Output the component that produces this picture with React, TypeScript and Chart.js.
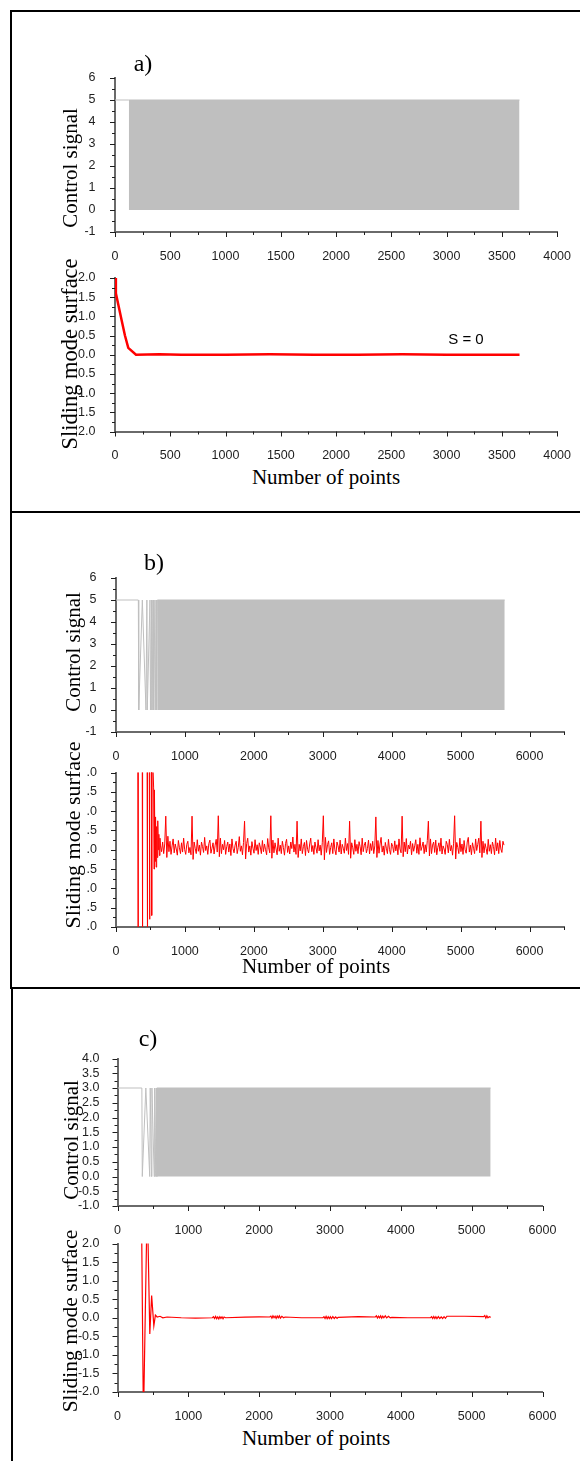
import React, { useEffect, useRef } from "react";
import { Chart, registerables } from "chart.js";

Chart.register(...registerables);

// ===================== DATA =====================
// ---- panel a) ----
const aXTickValues = [0, 500, 1000, 1500, 2000, 2500, 3000, 3500, 4000];
const aXTickLabels = ["0", "500", "1000", "1500", "2000", "2500", "3000", "3500", "4000"];
const a1YTickValues = [-1, 0, 1, 2, 3, 4, 5, 6];
const a1YTickLabels = ["-1", "0", "1", "2", "3", "4", "5", "6"];
const a2YTickValues = [2, 1.5, 1, 0.5, 0, -0.5, -1, -1.5, -2];
const a2YTickLabels = ["2.0", "1.5", "1.0", "0.5", "0.0", "0.5", "1.0", "1.5", "2.0"];

const a1InitX = [0, 125];
const a1InitY = [5, 5];
const a1BandX = [125, 3660]; // fast switching 0 <-> 5
const a1BandY = [5, 5];
const a1BandLow = 0;

const a2X = [0, 8, 30, 60, 90, 120, 190, 400, 600, 1000, 1400, 1800, 2200, 2600, 3000, 3400, 3660];
const a2Y = [2.0, 1.6, 1.3, 0.9, 0.5, 0.18, 0.0, 0.01, 0.0, 0.0, 0.01, 0.0, 0.0, 0.01, 0.0, 0.0, 0.0];

// ---- panel b) ----
const bXTickValues = [0, 1000, 2000, 3000, 4000, 5000, 6000];
const bXTickLabels = ["0", "1000", "2000", "3000", "4000", "5000", "6000"];
const b1YTickValues = [-1, 0, 1, 2, 3, 4, 5, 6];
const b1YTickLabels = ["-1", "0", "1", "2", "3", "4", "5", "6"];
const b2YTickValues = [2, 1.5, 1, 0.5, 0, -0.5, -1, -1.5, -2];
const b2YTickLabels = [".0", ".5", ".0", ".5", ".0", ".5", ".0", ".5", ".0"];

const b1InitX = [0, 324, 330, 382, 435, 448, 454, 493, 500, 517, 522, 541, 546, 565, 570, 585, 590, 600];
const b1InitY = [5, 5, 0, 5, 0, 5, 0, 5, 0, 5, 0, 5, 0, 5, 0, 5, 0, 5];
const b1BandX = [600, 5640];
const b1BandY = [5, 5];
const b1BandLow = 0;

const b2EarlyX = [0, 316, 320, 324, 380, 384, 388, 450, 455, 460, 482, 487, 492, 513, 518, 523, 546, 552, 558, 566, 574, 582, 590, 598, 606, 614, 622, 630, 638];
const b2EarlyY = [3, 3, -3, 3, 3, -3, 3, 3, -3, 3, 3, -1.8, 3, 3, -1.7, 3, 1.6, -0.5, 1.55, -0.3, 0.85, -0.45, 0.6, -0.2, 0.75, 0.0, 0.4, -0.15, 0.3];
const b2NoiseStart = 646;
const b2NoiseStep = 15.24;
const b2Noise = [
  0.1, -0.05, 0.2, -0.1, 0.15,
  0.87, -0.2, 0.35, -0.05, 0.22, -0.12, 0.1, 0.28, -0.08, 0.15, 0.02, -0.14, 0.24, 0.05, -0.1, 0.18, -0.06, 0.3, 0.0, -0.12, 0.14, 0.22, -0.08, 0.06, -0.13,
  0.87, -0.25, 0.2, 0.04, -0.1, 0.26, -0.04, 0.12, -0.14, 0.2, 0.08, -0.07, 0.32, -0.02, 0.1, -0.12, 0.16, 0.25, -0.09, 0.04, 0.18, -0.11, 0.12, 0.27, -0.06,
  0.88, -0.18, 0.3, -0.1, 0.14, 0.0, 0.24, -0.12, 0.08, 0.2, -0.06, 0.15, -0.15, 0.28, 0.03, -0.08, 0.12, 0.22, -0.1, 0.06, 0.34, -0.04, 0.1, -0.13, 0.19,
  0.74, -0.24, 0.16, 0.3, -0.06, 0.1, -0.14, 0.21, 0.04, -0.09, 0.26, -0.02, 0.13, -0.12, 0.18, 0.07, -0.1, 0.24, -0.05, 0.15, 0.0, -0.13, 0.29, 0.05, -0.08,
  0.88, -0.22, 0.25, -0.08, 0.18, 0.02, -0.13, 0.3, -0.04, 0.12, -0.1, 0.22, 0.06, -0.14, 0.16, 0.27, -0.07, 0.1, -0.11, 0.2, 0.03, 0.33, -0.06, 0.14, -0.12,
  0.74, -0.2, 0.14, -0.03, 0.28, -0.1, 0.08, 0.19, -0.15, 0.24, 0.01, -0.08, 0.15, 0.3, -0.05, 0.11, -0.12, 0.2, 0.05, -0.09, 0.26, -0.03, 0.12, -0.14, 0.18,
  0.88, -0.26, 0.32, -0.07, 0.13, 0.23, -0.12, 0.06, 0.18, -0.1, 0.28, 0.0, -0.13, 0.2, 0.1, -0.06, 0.25, -0.11, 0.14, 0.04, -0.09, 0.3, -0.02, 0.16, -0.12,
  0.74, -0.22, 0.18, 0.05, -0.12, 0.26, -0.04, 0.14, -0.1, 0.21, 0.08, -0.13, 0.3, -0.05, 0.12, 0.2, -0.08, 0.03, 0.25, -0.11, 0.16, -0.02, 0.22, -0.1, 0.1,
  0.85, -0.2, 0.24, -0.09, 0.15, 0.32, -0.06, 0.1, -0.14, 0.19, 0.04, -0.1, 0.27, 0.0, -0.12, 0.17, 0.09, -0.07, 0.23, -0.03, 0.13, -0.13, 0.28, 0.02, -0.08,
  0.87, -0.18, 0.2, -0.05, 0.29, -0.11, 0.12, 0.02, 0.22, -0.13, 0.16, -0.04, 0.1, 0.26, -0.09, 0.14, -0.12, 0.31, -0.02, 0.08, 0.2, -0.1, 0.13, -0.06, 0.24,
  0.74, -0.16, 0.28, -0.1, 0.12, 0.2, -0.07, 0.25, -0.13, 0.06, 0.18, -0.04, 0.3, -0.11, 0.1, 0.02, -0.12, 0.22, 0.14, -0.08, 0.27, -0.03, 0.11, -0.14, 0.17,
  0.88, -0.24, 0.19, 0.06, -0.1, 0.3, -0.05, 0.15, -0.12, 0.24, 0.0, -0.09, 0.2, 0.32, -0.06, 0.12, -0.13, 0.18, 0.04, -0.1, 0.28, -0.02, 0.14, 0.3, -0.08,
  0.74, -0.2, 0.22, -0.08, 0.16, 0.03, -0.12, 0.27, -0.04, 0.13, -0.1, 0.2, 0.08, -0.13, 0.3, -0.03, 0.18, -0.1, 0.24, 0.02, -0.07, 0.22, 0.12,
];

// ---- panel c) ----
const cXTickValues = [0, 1000, 2000, 3000, 4000, 5000, 6000];
const cXTickLabels = ["0", "1000", "2000", "3000", "4000", "5000", "6000"];
const c1YTickValues = [-1, -0.5, 0, 0.5, 1, 1.5, 2, 2.5, 3, 3.5, 4];
const c1YTickLabels = ["-1.0", "-0.5", "0.0", "0.5", "1.0", "1.5", "2.0", "2.5", "3.0", "3.5", "4.0"];
const c2YTickValues = [-2, -1.5, -1, -0.5, 0, 0.5, 1, 1.5, 2];
const c2YTickLabels = ["-2.0", "-1.5", "-1.0", "-0.5", "0.0", "0.5", "1.0", "1.5", "2.0"];

const c1InitX = [0, 344, 350, 400, 455, 462, 480, 486, 518, 524, 540, 546, 555];
const c1InitY = [3, 3, 0, 3, 0, 3, 0, 3, 0, 3, 0, 3, 0];
const c1BandX = [555, 5268];
const c1BandY = [3, 3];
const c1BandLow = 0;

const c2X = [
  0, 338, 366, 420, 456, 482, 513, 535, 560, 600, 640, 700, 900, 1100, 1340,
  1355, 1370, 1385, 1400, 1415, 1430, 1445, 1460, 1475, 1490, 1505, 1525,
  1800, 2000, 2150,
  2165, 2180, 2195, 2210, 2225, 2240, 2255, 2270, 2285, 2300, 2320, 2345, 2365,
  2600, 2900,
  2915, 2930, 2945, 2960, 2975, 2990, 3005, 3020, 3040, 3060, 3080, 3100, 3115,
  3400, 3640,
  3655, 3670, 3685, 3700, 3715, 3730, 3745, 3760, 3780, 3800, 3825, 3850, 3872,
  4100, 4420,
  4435, 4450, 4465, 4480, 4495, 4510, 4530, 4550, 4570, 4590, 4610, 4630, 4650, 4665,
  4900, 5170,
  5185, 5200, 5215, 5230, 5250, 5268,
];
const c2Y = [
  3, 3, -2.8, 3.2, -0.44, 0.6, -0.22, 0.07, 0.02, 0.04, 0.0, 0.02, 0.0, -0.01, 0.0,
  0.03, -0.02, 0.035, -0.025, 0.02, -0.03, 0.03, -0.015, 0.025, -0.03, 0.02, 0.0,
  0.015, 0.025, 0.02,
  0.045, -0.01, 0.05, 0.0, 0.04, -0.015, 0.045, 0.0, 0.05, -0.01, 0.04, 0.0, 0.02,
  0.0, 0.0,
  0.03, -0.02, 0.035, -0.025, 0.03, -0.02, 0.03, -0.025, 0.03, -0.02, 0.025, -0.015, 0.01,
  0.03, 0.02,
  0.05, -0.005, 0.045, 0.0, 0.05, -0.01, 0.045, 0.0, 0.05, -0.005, 0.04, 0.0, 0.01,
  0.0, 0.0,
  0.03, -0.02, 0.035, -0.02, 0.03, -0.025, 0.03, -0.02, 0.025, -0.02, 0.03, -0.015, 0.04, 0.04,
  0.04, 0.03,
  0.06, -0.01, 0.05, 0.0, 0.03, 0.01,
];

// ---- texts ----
const panelLabels = ["a)", "b)", "c)"];
const controlTitle = "Control signal";
const surfaceTitle = "Sliding mode surface";
const xTitle = "Number of points";
const surfaceNote = "S = 0";

// ===================== STYLE =====================
const GREY = "#bfbfbf";
const RED = "#ff0000";
const AXIS = "#6a6a6a";
const TICK = "#1e1e1e";
const TICK_FONT = { family: "'Liberation Sans', Arial, sans-serif", size: 12.5 };
const SERIF = "'Liberation Serif', 'Times New Roman', serif";
const SANS = "'Liberation Sans', Arial, sans-serif";

const zip = (xs: number[], ys: number[]) => xs.map((x, i) => ({ x, y: ys[i] }));

const labelFor = (vals: number[], labels: string[]) => (v: any) => {
  const i = vals.findIndex((t) => Math.abs(t - Number(v)) < 1e-6);
  return i >= 0 ? labels[i] : "";
};

const axisTicksPlugin = {
  id: "axisTicks",
  afterDraw(chart: any) {
    const { ctx, chartArea } = chart;
    const xs = chart.scales.x;
    const ys = chart.scales.y;
    ctx.save();
    ctx.strokeStyle = TICK;
    ctx.lineWidth = 1;
    ctx.beginPath();
    xs.ticks.forEach((t: any) => {
      const px = Math.round(xs.getPixelForValue(t.value)) + 0.5;
      const len = t.label !== "" ? 5 : 3;
      ctx.moveTo(px, chartArea.bottom);
      ctx.lineTo(px, chartArea.bottom + len);
    });
    ys.ticks.forEach((t: any) => {
      const py = Math.round(ys.getPixelForValue(t.value)) + 0.5;
      const len = t.label !== "" ? 5 : 3;
      ctx.moveTo(chartArea.left - len, py);
      ctx.lineTo(chartArea.left, py);
    });
    ctx.stroke();
    ctx.restore();
  },
};

type Spec = {
  left: number; right: number; top: number; bottom: number;
  xMax: number; xStep: number; xVals: number[]; xLabels: string[];
  yMin: number; yMax: number; yStep: number; yVals: number[]; yLabels: string[];
  yPad: number;
  datasets: any[];
};

const bandSet = (xs: number[], ys: number[], low: number) => ({
  data: zip(xs, ys),
  borderColor: GREY,
  backgroundColor: GREY,
  borderWidth: 1,
  fill: { value: low },
});
const greyLine = (xs: number[], ys: number[]) => ({
  data: zip(xs, ys),
  borderColor: GREY,
  borderWidth: 1,
  fill: false,
});
const redLine = (pts: { x: number; y: number }[], w: number) => ({
  data: pts,
  borderColor: RED,
  borderWidth: w,
  fill: false,
});

const b2Points = [
  ...zip(b2EarlyX, b2EarlyY),
  ...b2Noise.map((y, i) => ({ x: b2NoiseStart + i * b2NoiseStep, y })),
];

const specs: Spec[] = [
  {
    left: 115, right: 558, top: 73.5, bottom: 232,
    xMax: 4000, xStep: 250, xVals: aXTickValues, xLabels: aXTickLabels,
    yMin: -1, yMax: 6, yStep: 0.5, yVals: a1YTickValues, yLabels: a1YTickLabels, yPad: 11.5,
    datasets: [bandSet(a1BandX, a1BandY, a1BandLow), greyLine(a1InitX, a1InitY)],
  },
  {
    left: 115, right: 558, top: 273.5, bottom: 431.5,
    xMax: 4000, xStep: 250, xVals: aXTickValues, xLabels: aXTickLabels,
    yMin: -2, yMax: 2, yStep: 0.25, yVals: a2YTickValues, yLabels: a2YTickLabels, yPad: 11.5,
    datasets: [redLine(zip(a2X, a2Y), 2.5)],
  },
  {
    left: 116, right: 564, top: 573.5, bottom: 732,
    xMax: 6500, xStep: 500, xVals: bXTickValues, xLabels: bXTickLabels,
    yMin: -1, yMax: 6, yStep: 0.5, yVals: b1YTickValues, yLabels: b1YTickLabels, yPad: 11.5,
    datasets: [bandSet(b1BandX, b1BandY, b1BandLow), greyLine(b1InitX, b1InitY)],
  },
  {
    left: 116, right: 564, top: 768.5, bottom: 927,
    xMax: 6500, xStep: 500, xVals: bXTickValues, xLabels: bXTickLabels,
    yMin: -2, yMax: 2, yStep: 0.25, yVals: b2YTickValues, yLabels: b2YTickLabels, yPad: 11,
    datasets: [redLine(b2Points, 1)],
  },
  {
    left: 117.5, right: 542.5, top: 1055, bottom: 1206,
    xMax: 6000, xStep: 500, xVals: cXTickValues, xLabels: cXTickLabels,
    yMin: -1, yMax: 4, yStep: 0.25, yVals: c1YTickValues, yLabels: c1YTickLabels, yPad: 10,
    datasets: [bandSet(c1BandX, c1BandY, c1BandLow), greyLine(c1InitX, c1InitY)],
  },
  {
    left: 117.5, right: 542.5, top: 1240, bottom: 1392,
    xMax: 6000, xStep: 500, xVals: cXTickValues, xLabels: cXTickLabels,
    yMin: -2, yMax: 2, yStep: 0.25, yVals: c2YTickValues, yLabels: c2YTickLabels, yPad: 10,
    datasets: [redLine(zip(c2X, c2Y), 1.2)],
  },
];

const PAGE_W = 580;
const PAGE_H = 1461;
const TOP_ROOM = 14;
const BOTTOM_ROOM = 32;

function SubChart({ spec }: { spec: Spec }) {
  const ref = useRef<HTMLCanvasElement | null>(null);
  const canvasTop = Math.floor(spec.top) - TOP_ROOM;
  const canvasH = Math.ceil(spec.bottom) - canvasTop + BOTTOM_ROOM;

  useEffect(() => {
    if (!ref.current) return;
    const xH = canvasH - (spec.bottom - canvasTop);
    const chart = new Chart(ref.current, {
      type: "line",
      data: { datasets: spec.datasets },
      options: {
        animation: false,
        responsive: false,
        maintainAspectRatio: false,
        devicePixelRatio: 1,
        events: [],
        layout: { padding: { left: 0, right: PAGE_W - spec.right, top: spec.top - canvasTop, bottom: 0 } },
        plugins: { legend: { display: false }, tooltip: { enabled: false }, title: { display: false } },
        elements: { point: { radius: 0 }, line: { tension: 0 } },
        scales: {
          x: {
            type: "linear",
            min: 0,
            max: spec.xMax,
            afterFit: (s: any) => { s.height = xH; },
            grid: { display: false },
            border: { display: true, color: AXIS, width: 2 },
            ticks: {
              stepSize: spec.xStep,
              autoSkip: false,
              maxRotation: 0,
              minRotation: 0,
              padding: 9,
              color: TICK,
              font: TICK_FONT,
              callback: labelFor(spec.xVals, spec.xLabels),
            },
          },
          y: {
            type: "linear",
            min: spec.yMin,
            max: spec.yMax,
            afterFit: (s: any) => { s.width = spec.left; },
            grid: { display: false },
            border: { display: true, color: AXIS, width: 2 },
            ticks: {
              stepSize: spec.yStep,
              autoSkip: false,
              padding: spec.yPad,
              color: TICK,
              font: TICK_FONT,
              callback: labelFor(spec.yVals, spec.yLabels),
            },
          },
        },
      } as any,
      plugins: [axisTicksPlugin],
    });
    return () => chart.destroy();
  }, []);

  return (
    <canvas
      ref={ref}
      width={PAGE_W}
      height={canvasH}
      style={{ position: "absolute", left: 0, top: canvasTop, width: PAGE_W, height: canvasH }}
    />
  );
}

function Txt({ text, cx, cy, size, family, rotate }: { text: string; cx: number; cy: number; size: number; family: string; rotate?: boolean }) {
  return (
    <div
      style={{
        position: "absolute",
        left: cx,
        top: cy,
        transform: `translate(-50%, -50%)${rotate ? " rotate(-90deg)" : ""}`,
        fontFamily: family,
        fontSize: size,
        lineHeight: 1,
        whiteSpace: "nowrap",
        color: "#000",
      }}
    >
      {text}
    </div>
  );
}

function Line({ x, y, w, h }: { x: number; y: number; w: number; h: number }) {
  return <div style={{ position: "absolute", left: x, top: y, width: w, height: h, background: "#000" }} />;
}

export default function App() {
  return (
    <div style={{ position: "absolute", left: 0, top: 0, width: PAGE_W, height: PAGE_H, background: "#fff", overflow: "hidden" }}>
      {/* panel frames */}
      <Line x={10} y={10} w={570} h={2} />
      <Line x={10} y={10} w={2} h={503} />
      <Line x={10} y={511} w={570} h={2} />
      <Line x={10} y={511} w={2} h={478} />
      <Line x={10} y={987} w={570} h={2} />
      <Line x={11} y={987} w={2} h={474} />

      {specs.map((s, i) => <SubChart key={i} spec={s} />)}

      <Txt text={panelLabels[0]} cx={143} cy={63} size={24} family={SERIF} />
      <Txt text={panelLabels[1]} cx={154} cy={562} size={24} family={SERIF} />
      <Txt text={panelLabels[2]} cx={148} cy={1038} size={24} family={SERIF} />

      <Txt text={controlTitle} cx={70} cy={168} size={21} family={SERIF} rotate />
      <Txt text={surfaceTitle} cx={70} cy={354} size={22.5} family={SERIF} rotate />
      <Txt text={controlTitle} cx={73} cy={652} size={21} family={SERIF} rotate />
      <Txt text={surfaceTitle} cx={73} cy={835} size={22} family={SERIF} rotate />
      <Txt text={controlTitle} cx={71} cy={1140} size={21} family={SERIF} rotate />
      <Txt text={surfaceTitle} cx={71} cy={1321} size={21.5} family={SERIF} rotate />

      <Txt text={surfaceNote} cx={466} cy={338} size={15} family={SANS} />

      <Txt text={xTitle} cx={326} cy={477} size={21} family={SERIF} />
      <Txt text={xTitle} cx={316} cy={966} size={21} family={SERIF} />
      <Txt text={xTitle} cx={316} cy={1438} size={21} family={SERIF} />
    </div>
  );
}
